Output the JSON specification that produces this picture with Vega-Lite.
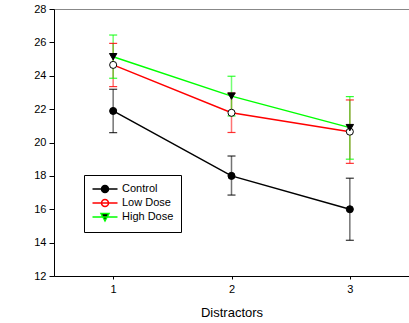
{
  "$schema": "https://vega.github.io/schema/vega-lite/v6.json",
  "autosize": {"type": "none"},
  "padding": {"left": 54, "top": 9, "right": 0, "bottom": 47},
  "width": 355,
  "height": 267,
  "background": "white",
  "config": {
    "font": "Liberation Sans",
    "view": {"stroke": "#888888", "strokeWidth": 1},
    "axis": {"grid": false, "domainColor": "black", "tickColor": "black", "labelColor": "black", "titleColor": "black", "labelFont": "Liberation Sans", "titleFont": "Liberation Sans"}
  },
  "data": {
    "values": [
      {"series": "Control", "x": 1, "mean": 21.89, "lower": 20.59, "upper": 23.19},
      {"series": "Control", "x": 2, "mean": 18.0, "lower": 16.85, "upper": 19.19},
      {"series": "Control", "x": 3, "mean": 16.0, "lower": 14.14, "upper": 17.86},
      {"series": "Low Dose", "x": 1, "mean": 24.65, "lower": 23.35, "upper": 25.94},
      {"series": "Low Dose", "x": 2, "mean": 21.78, "lower": 20.6, "upper": 22.96},
      {"series": "Low Dose", "x": 3, "mean": 20.65, "lower": 18.75, "upper": 22.55},
      {"series": "High Dose", "x": 1, "mean": 25.14, "lower": 23.85, "upper": 26.44},
      {"series": "High Dose", "x": 2, "mean": 22.78, "lower": 21.59, "upper": 23.97},
      {"series": "High Dose", "x": 3, "mean": 20.89, "lower": 19.0, "upper": 22.75}
    ]
  },
  "encoding": {
    "x": {
      "field": "x", "type": "quantitative",
      "scale": {"domain": [0.5, 3.5], "nice": false, "zero": false},
      "axis": {"values": [1, 2, 3], "format": "d", "title": "Distractors", "tickSize": 3, "labelFontSize": 11, "labelPadding": 4, "titleFontSize": 13, "titleFontWeight": "normal", "titlePadding": 12, "labelOverlap": false}
    },
    "y": {
      "field": "mean", "type": "quantitative",
      "scale": {"domain": [12, 28], "nice": false, "zero": false},
      "axis": {"values": [12, 14, 16, 18, 20, 22, 24, 26, 28], "title": null, "tickSize": 5, "labelFontSize": 11, "labelPadding": 3, "labelOverlap": false}
    },
    "stroke": {
      "field": "series", "type": "nominal",
      "scale": {"domain": ["Control", "Low Dose", "High Dose"], "range": ["black", "#ff0000", "#00ff00"]},
      "legend": {
        "orient": "none", "legendX": 30, "legendY": 166, "title": null,
        "symbolSize": 144, "symbolStrokeWidth": 1.5,
        "labelFontSize": 11, "labelOffset": 17, "labelColor": "black",
        "labelExpr": "datum.label + '     '",
        "padding": 7, "strokeColor": "black", "fillColor": "white", "rowPadding": 0,
        "encode": {
          "symbols": {
            "update": {
              "shape": {"signal": "datum.value === 'High Dose' ? 'M-0.917,0L3.25,0M0.5,-0.583L1.833,-0.583L1.167,0.667Z' : 'M-0.917,0L3.25,0M0.583,0A0.583,0.583,0,1,0,1.75,0A0.583,0.583,0,1,0,0.583,0Z'"},
              "fill": {"signal": "datum.value === 'Low Dose' ? 'white' : 'black'"},
              "stroke": {"scale": "stroke", "field": "value"},
              "fillOpacity": {"value": 1},
              "strokeWidth": {"value": 1.5},
              "opacity": {"value": 1}
            }
          }
        }
      }
    }
  },
  "layer": [
    {
      "mark": {"type": "rule", "strokeWidth": 1.5, "opacity": 0.55},
      "encoding": {
        "y": {"field": "lower", "type": "quantitative"},
        "y2": {"field": "upper"}
      }
    },
    {
      "mark": {"type": "point", "shape": "stroke", "size": 64, "strokeWidth": 1.2, "opacity": 0.8},
      "encoding": {
        "y": {"field": "upper", "type": "quantitative"}
      }
    },
    {
      "mark": {"type": "point", "shape": "stroke", "size": 64, "strokeWidth": 1.2, "opacity": 0.8},
      "encoding": {
        "y": {"field": "lower", "type": "quantitative"}
      }
    },
    {
      "mark": {"type": "line", "strokeWidth": 1.5}
    },
    {
      "transform": [{"filter": {"field": "series", "equal": "Control"}}],
      "mark": {"type": "point", "shape": "circle", "filled": true, "fill": "black", "size": 50, "strokeWidth": 1, "opacity": 1},
      "encoding": {"stroke": {"value": "black"}}
    },
    {
      "transform": [{"filter": {"field": "series", "equal": "Low Dose"}}],
      "mark": {"type": "point", "shape": "circle", "filled": true, "fill": "white", "size": 50, "strokeWidth": 1, "opacity": 1},
      "encoding": {"stroke": {"value": "black"}}
    },
    {
      "transform": [{"filter": {"field": "series", "equal": "High Dose"}}],
      "mark": {"type": "point", "shape": "triangle-down", "filled": true, "fill": "black", "size": 55, "strokeWidth": 1, "opacity": 1},
      "encoding": {"stroke": {"value": "black"}}
    }
  ]
}
